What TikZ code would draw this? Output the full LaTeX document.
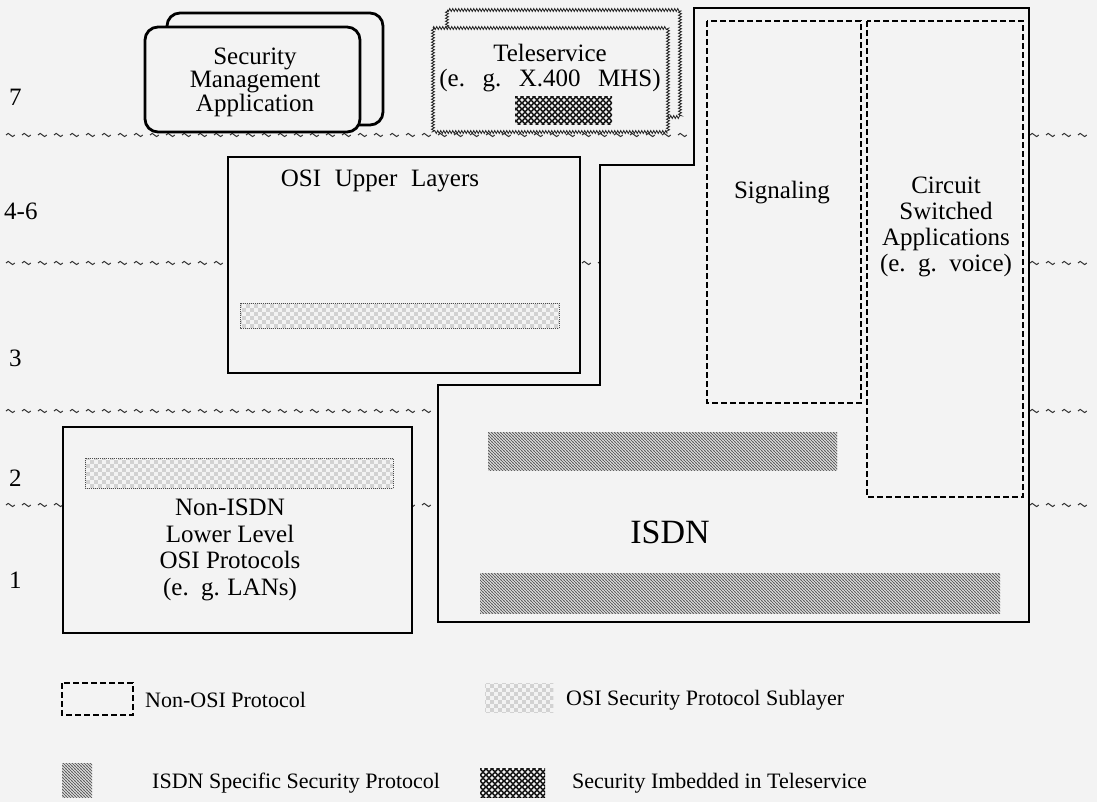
\documentclass[tikz,border=0pt]{standalone}
\usepackage{fontspec}
\setmainfont{Liberation Serif}
\usetikzlibrary{patterns,decorations.pathmorphing}
\definecolor{bg}{RGB}{243,243,243}
\pgfdeclarepatternformonly{honey}{\pgfpoint{-1pt}{-1pt}}{\pgfpoint{7pt}{7pt}}{\pgfpoint{6pt}{6pt}}{%
  \pgfsetlinewidth{1.3pt}\pgfpathcircle{\pgfpoint{3pt}{3pt}}{2.3pt}\pgfusepath{stroke}}
\pgfdeclarepatternformonly{isdnhatch}{\pgfpoint{-1pt}{-1pt}}{\pgfpoint{4pt}{4pt}}{\pgfpoint{3pt}{3pt}}{%
  \pgfsetlinewidth{1.0pt}\pgfpathmoveto{\pgfpoint{-0.2pt}{3.2pt}}\pgfpathlineto{\pgfpoint{3.2pt}{-0.2pt}}\pgfusepath{stroke}}
\pgfdeclarepatternformonly{osidots}{\pgfpoint{-1pt}{-1pt}}{\pgfpoint{9pt}{9pt}}{\pgfpoint{8pt}{8pt}}{%
  \pgfpathcircle{\pgfpoint{1pt}{1pt}}{0.65pt}\pgfpathcircle{\pgfpoint{3pt}{3pt}}{0.65pt}%
  \pgfpathcircle{\pgfpoint{5pt}{5pt}}{0.65pt}\pgfpathcircle{\pgfpoint{7pt}{7pt}}{0.65pt}%
  \pgfpathcircle{\pgfpoint{1pt}{7pt}}{0.65pt}\pgfpathcircle{\pgfpoint{3pt}{5pt}}{0.65pt}%
  \pgfpathcircle{\pgfpoint{5pt}{3pt}}{0.65pt}\pgfpathcircle{\pgfpoint{7pt}{1pt}}{0.65pt}%
  \pgfusepath{fill}}
\begin{document}
\begin{tikzpicture}[x=1pt,y=-1pt,
  lbl/.style={font=\fontsize{25}{26}\selectfont, align=center, inner sep=0pt},
  leglbl/.style={font=\fontsize{22}{24}\selectfont, anchor=west, inner sep=0pt},
  tilde/.style={draw=black!80, line width=1pt},
  solidbox/.style={draw=black, line width=1.8pt, fill=bg},
  dashbox/.style={draw=black, line width=2.2pt, dash pattern=on 6pt off 3pt},
  isdnbar/.style={fill=black!18, pattern=isdnhatch, pattern color=black!62},
  osibar/.style={pattern=osidots, pattern color=black!60},
  osiedge/.style={draw=black!70, line width=1pt, densely dotted},
  honeyfill/.style={pattern=honey, pattern color=black},
  wavybox/.style={draw=black!85, fill=bg, line width=0.8pt, decorate,
     decoration={zigzag, amplitude=1.5pt, segment length=3pt}},
  roundbox/.style={draw=black, line width=2.8pt, fill=bg, rounded corners=13pt}]
\path[use as bounding box, fill=bg] (0,0) rectangle (1097,802);

% layer dividers (rows of small tildes)
\foreach \yy in {135, 263, 411, 505} {
  \foreach \xx in {6,22,...,1090} {
    \draw[tilde] (\xx,\yy) sin ++(2.2,-1.6) cos ++(2.2,1.6) sin ++(2.2,1.6) cos ++(2.2,-1.6);
  }
}

% layer labels
\node[lbl, anchor=west] (l7) at (9,97) {7};
\node[lbl, anchor=west] (l46) at (4,211) {4-6};
\node[lbl, anchor=west] (l3) at (9,358) {3};
\node[lbl, anchor=west] (l2) at (9,478) {2};
\node[lbl, anchor=west] (l1) at (9,580) {1};

% ISDN outline
\path[solidbox] (694,8) -- (1029,8) -- (1029,622) -- (438,622) -- (438,385)
   -- (600,385) -- (600,165) -- (694,165) -- cycle;
\draw[dashbox] (707,21) rectangle (861,403);
\draw[dashbox] (867,21) rectangle (1023,497);
\node[lbl] (sig) at (782,193) {Signaling};
\node[lbl] (csa) at (946,227) {Circuit\\Switched\\Applications\\(e.\hspace{0.5em}g.\hspace{0.5em}voice)};
\path[isdnbar] (488,432) rectangle (837,470);
\path[isdnbar] (480,573) rectangle (1000,613);
\node[lbl, font=\fontsize{34}{36}\selectfont] (isdn) at (670,532) {ISDN};

% OSI upper layers
\path[solidbox] (228,157) rectangle (580,373);
\node[lbl] (osiu) at (380,181) {OSI\hspace{0.3em} Upper\hspace{0.3em} Layers};
\path[osibar] (240,303) rectangle (559,328);
\draw[osiedge] (240,303) rectangle (559,328);

% Non-ISDN
\path[solidbox] (63,427) rectangle (412,633);
\path[osibar] (85,458) rectangle (393,488);
\draw[osiedge] (85,458) rectangle (393,488);
\node[lbl, font=\fontsize{25}{26.5}\selectfont] (nisdn) at (230,550) {Non-ISDN\\Lower Level\\OSI Protocols\\(e.\hspace{0.5em}g.\hspace{0.3em}LANs)};

% Teleservice
\path[wavybox] (447,10) rectangle (680,117);
\path[wavybox] (433,28) rectangle (668,132);
\node[lbl, font=\fontsize{25}{25}\selectfont] (tele) at (550,68) {Teleservice\\(e.\hspace{0.7em}g.\hspace{0.7em}X.400\hspace{0.7em}MHS)};
\path[honeyfill] (515,97) rectangle (612,125);

% Security management application
\path[roundbox] (167,13) rectangle (383,125);
\path[roundbox] (145,27) rectangle (360,132);
\node[lbl, font=\fontsize{25}{23.5}\selectfont] (sma) at (255,82) {Security\\Management\\Application};

% legend
\draw[dashbox] (62,683) rectangle (133,715);
\node[leglbl] (lg1) at (145,700) {Non-OSI Protocol};
\path[osibar] (485,683) rectangle (553,712);
\node[leglbl] (lg2) at (566,700) {OSI Security Protocol Sublayer};
\path[isdnbar] (62,763) rectangle (92,797);
\node[leglbl] (lg3) at (152,783) {ISDN Specific Security Protocol};
\path[honeyfill] (480,768) rectangle (545,797);
\node[leglbl] (lg4) at (572,783) {Security Imbedded in Teleservice};
\end{tikzpicture}
\end{document}
